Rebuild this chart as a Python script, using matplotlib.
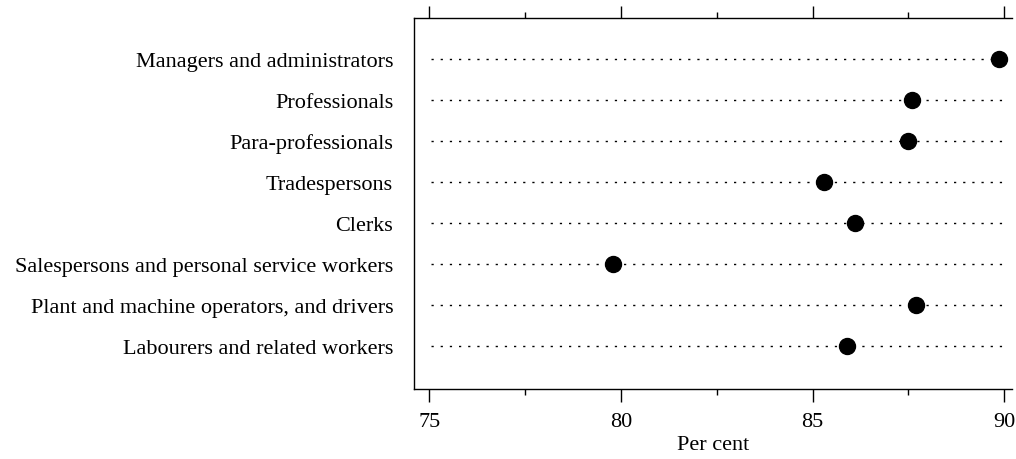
import numpy as np
import matplotlib.pyplot as plt
from matplotlib.ticker import MultipleLocator

plt.rcParams['font.family'] = ['Liberation Serif', 'DejaVu Serif']

occupations = [
    "Managers and administrators",
    "Professionals",
    "Para-professionals",
    "Tradespersons",
    "Clerks",
    "Salespersons and personal service workers",
    "Plant and machine operators, and drivers",
    "Labourers and related workers",
]
per_cent = [89.85, 87.6, 87.5, 85.3, 86.1, 79.8, 87.7, 85.9]

fig = plt.figure(figsize=(10.16, 4.6), dpi=100)
ax = fig.add_axes([0.4075, 0.152, 0.5885, 0.807])

rows = np.arange(1, len(occupations) + 1)

# dotted guide lines across each row
for r in rows:
    ax.plot([75.05, 89.95], [r, r], color='black', lw=1.0,
            linestyle=(0, (1.6, 5.0)), zorder=1)

ax.plot(per_cent, rows, 'o', color='black', markersize=11.5, zorder=3)

ax.set_xlim(74.6, 90.2)
ax.set_ylim(9.05, 0.0)

ax.set_yticks(rows)
ax.set_yticklabels(occupations, fontsize=16)
ax.tick_params(axis='y', length=0, pad=15)

ax.xaxis.set_major_locator(MultipleLocator(5))
ax.xaxis.set_minor_locator(MultipleLocator(2.5))
ax.tick_params(axis='x', which='major', direction='out', length=9,
               width=1, labelsize=16, pad=7.5, top=True)
ax.tick_params(axis='x', which='minor', direction='out', length=4,
               width=1, top=True)
ax.set_xlabel('Per cent', fontsize=16, labelpad=3)

ax.spines['right'].set_visible(False)
for s in ['left', 'top', 'bottom']:
    ax.spines[s].set_linewidth(1.0)

fig.savefig('out.png', dpi=100)
